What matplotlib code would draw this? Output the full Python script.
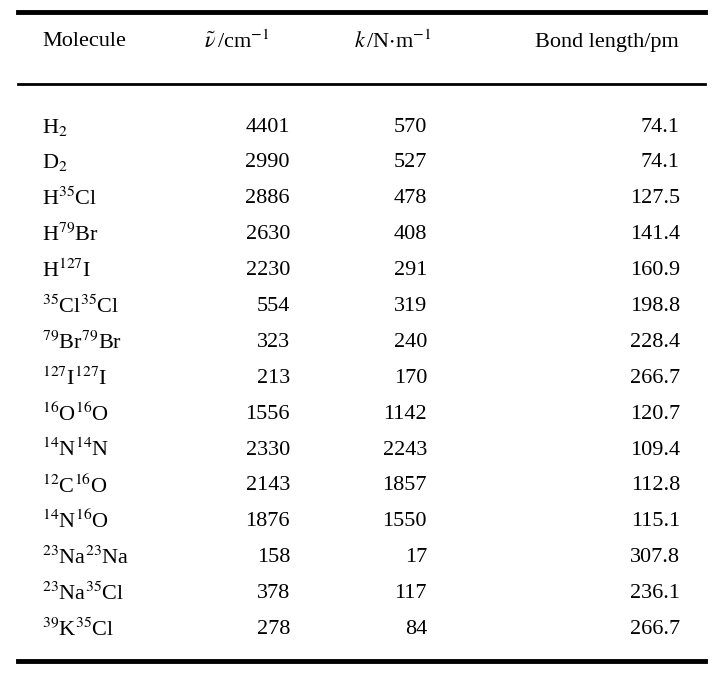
import matplotlib.pyplot as plt

plt.rcParams['font.family'] = ['Liberation Serif', 'DejaVu Serif']
plt.rcParams['mathtext.fontset'] = 'stix'

molecules = [r'H$_2$', r'D$_2$', r'H$^{35}$Cl', r'H$^{79}$Br', r'H$^{127}$I',
             r'$^{35}$Cl$^{35}$Cl', r'$^{79}$Br$^{79}$Br', r'$^{127}$I$^{127}$I',
             r'$^{16}$O$^{16}$O', r'$^{14}$N$^{14}$N', r'$^{12}$C$^{16}$O',
             r'$^{14}$N$^{16}$O', r'$^{23}$Na$^{23}$Na', r'$^{23}$Na$^{35}$Cl',
             r'$^{39}$K$^{35}$Cl']
wavenumber = [4401, 2990, 2886, 2630, 2230, 554, 323, 213, 1556, 2330, 2143, 1876, 158, 378, 278]
force_const = [570, 527, 478, 408, 291, 319, 240, 170, 1142, 2243, 1857, 1550, 17, 117, 84]
bond_length = [74.1, 74.1, 127.5, 141.4, 160.9, 198.8, 228.4, 266.7, 120.7, 109.4,
               112.8, 115.1, 307.8, 236.1, 266.7]
headers = ['Molecule', r'$\tilde{\nu}\,$/cm$^{-1}$', r'$k\,$/N$\cdot$m$^{-1}$', 'Bond length/pm']

fig = plt.figure(figsize=(7.22, 6.80), dpi=100)
ax = fig.add_axes([0, 0, 1, 1])
ax.set_xlim(0, 722)
ax.set_ylim(680, 0)
ax.axis('off')

fs = 16
ax.plot([18, 705], [12, 12], color='black', lw=3.5)
ax.plot([18, 705], [84, 84], color='black', lw=2)
ax.plot([18, 705], [661, 661], color='black', lw=3.5)

hy = 42
ax.text(42, hy, headers[0], fontsize=fs, va='center', ha='left')
ax.text(237, hy, headers[1], fontsize=fs, va='center', ha='center')
ax.text(393, hy, headers[2], fontsize=fs, va='center', ha='center')
ax.text(679, hy, headers[3], fontsize=fs, va='center', ha='right')

y0, step = 127, 35.9
for i, m in enumerate(molecules):
    y = y0 + i * step
    ax.text(42, y, m, fontsize=fs, va='center', ha='left')
    ax.text(290, y, str(wavenumber[i]), fontsize=fs, va='center', ha='right')
    ax.text(427, y, str(force_const[i]), fontsize=fs, va='center', ha='right')
    ax.text(680, y, f'{bond_length[i]:.1f}', fontsize=fs, va='center', ha='right')

fig.savefig('out.png', dpi=100)
